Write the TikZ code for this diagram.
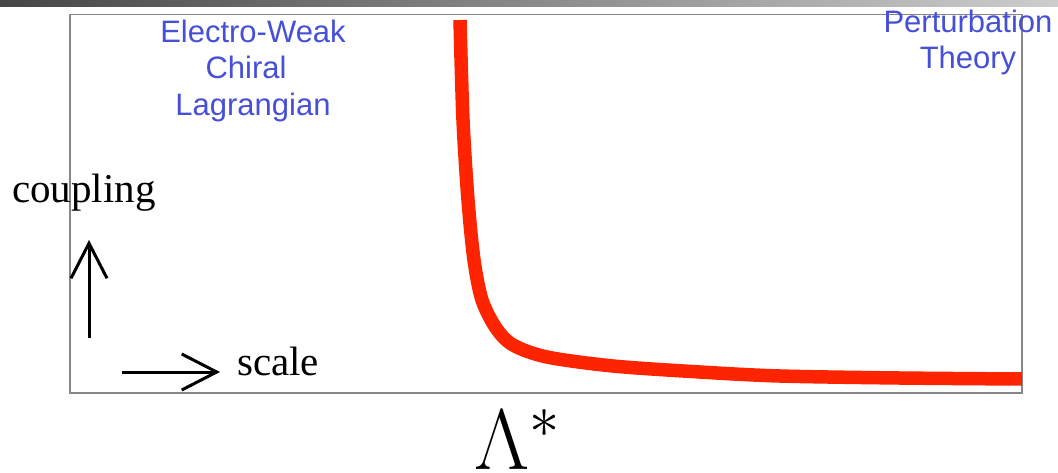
\RequirePackage{fix-cm}
\documentclass[tikz,border=0pt]{standalone}
\usepackage{fontspec}
\setmainfont{Liberation Serif}
\newfontfamily\labelsans{Liberation Sans}
\usetikzlibrary{arrows.meta}
\definecolor{bluetext}{RGB}{70,80,215}
\definecolor{curvered}{RGB}{255,36,0}
\definecolor{framegray}{RGB}{135,135,135}
\begin{document}
\begin{tikzpicture}[x=1pt,y=-1pt,
  regime/.style={inner sep=0pt,anchor=base,text=bluetext,font=\labelsans\fontsize{31}{36}\selectfont},
  axislabel/.style={inner sep=0pt,anchor=base west,font=\fontsize{41}{48}\selectfont},
  axisarrow/.style={line width=3pt,-{Straight Barb[length=35pt,width=36pt,line width=3pt]}},
  frameline/.style={draw=framegray,line width=1.5pt},
  flow/.style={draw=curvered,line width=13.5pt,line join=round}]
\useasboundingbox (0,0) rectangle (1058,472);
\fill[white] (0,0) rectangle (1058,472);
% top gradient bar
\shade[left color={rgb,255:red,70;green,70;blue,70},right color={rgb,255:red,205;green,205;blue,205}] (0,0) rectangle (1058,6);
% frame
\draw[frameline] (70,14.5) rectangle (1022,393);
% running coupling curve
\draw[flow] plot[smooth,tension=0.5] coordinates {(460,20) (463,120) (468,200) (474,260) (482,300) (496,328) (513,345) (547,357) (613,366) (700,372) (780,376) (900,378) (1022,379)};
% regime labels
\node[regime] (ew1) at (253,42) {Electro-Weak};
\node[regime] (ew2) at (246,78) {Chiral};
\node[regime] (ew3) at (253,115) {Lagrangian};
\node[regime] (pt1) at (968,32) {Perturbation};
\node[regime] (pt2) at (968,68) {Theory};
% axes labels and arrows
\node[axislabel] (coupling) at (12,202) {coupling};
\node[axislabel] (scale) at (237,375) {scale};
\coordinate (upstart) at (89,338);
\coordinate (uptip) at (89,240);
\coordinate (rstart) at (122,372);
\coordinate (rtip) at (220,372);
\draw[axisarrow] (upstart) -- (uptip);
\draw[axisarrow] (rstart) -- (rtip);
\node[inner sep=0pt,anchor=base west,font=\fontsize{86}{90}\selectfont] (lambda) at (474,469) {$\Lambda^{*}$};
\end{tikzpicture}
\end{document}
